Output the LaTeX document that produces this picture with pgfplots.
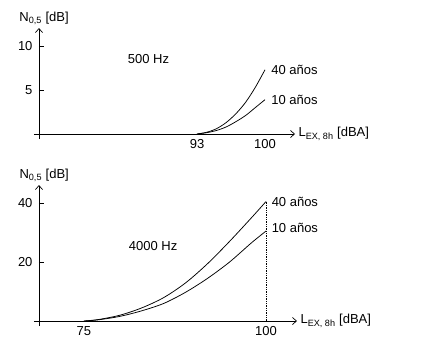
\documentclass[border=0pt]{standalone}
\usepackage{fontspec}
\setmainfont{Liberation Sans}
\usepackage{pgfplots}
\pgfplotsset{compat=1.18}
\usetikzlibrary{arrows.meta}
\newcommand{\fs}{\fontsize{13}{15}\selectfont}
\pgfplotsset{
  mystyle/.style={
    scale only axis,
    axis x line=bottom, axis y line=left,
    axis line style={line width=0.8pt, shorten <=-5pt, -{Straight Barb[length=4pt,width=7pt,line width=0.7pt]}},
    tick align=inside, major tick length=5pt,
    ytick style={line width=0.8pt, black},
    xtick style={draw=none},
    /pgf/number format/assume math mode=true,
    tick label style={font=\fs},
    xticklabel style={yshift=-2pt},
    yticklabel style={xshift=-3pt},
    clip=false,
  },
  crv/.style={line width=0.75pt, black, no marks, smooth},
}
\begin{document}
\begin{tikzpicture}
\path (0pt,0pt) rectangle (426pt,357pt);
% top axis: 500 Hz
\begin{axis}[mystyle,
  at={(39pt,223pt)}, anchor=south west,
  width=256pt, height=106pt,
  xmin=76.73, xmax=103.09, ymin=0, ymax=12.05,
  xtick={93,100}, ytick={5,10}]
\addplot[crv] coordinates {(93,0) (94,0.2) (95,0.6) (96,1.3) (97,2.3) (98,3.6) (99,5.3) (100,7.3)};
\addplot[crv] coordinates {(93,0) (94,0.15) (95,0.4) (96,0.8) (97,1.4) (98,2.1) (99,3.0) (100,3.9)};
\node[anchor=west, font=\fs] at (axis cs:100.3,7.3) {40 años};
\node[anchor=west, font=\fs] at (axis cs:100.3,3.9) {10 años};
\node[font=\fs] at (axis cs:88.0,8.5) {500 Hz};
\node[anchor=south, font=\fs] at (rel axis cs:0.02,1) {N\textsubscript{0,5} [dB]};
\node[anchor=west, font=\fs] at (rel axis cs:1,0) {L\textsubscript{EX, 8h} [dBA]};
\end{axis}
% bottom axis: 4000 Hz
\begin{axis}[mystyle,
  at={(39pt,36pt)}, anchor=south west,
  width=258pt, height=136pt,
  xmin=68.84, xmax=104.25, ymin=0, ymax=46.1,
  xtick={75,100}, ytick={20,40}]
\addplot[crv] coordinates {(75,0) (77,0.5) (80,2) (83,4.5) (86,8) (89,13) (92,19.5) (95,27) (98,35) (100,40.5)};
\addplot[crv] coordinates {(75,0) (77,0.4) (80,1.6) (83,3.5) (86,6) (89,9.8) (92,14.5) (95,20) (98,26.5) (100,30.5)};
\addplot[black, line width=0.75pt, densely dotted, no marks] coordinates {(100,0) (100,40.5)};
\node[anchor=west, font=\fs] at (axis cs:100.3,40.5) {40 años};
\node[anchor=west, font=\fs] at (axis cs:100.3,31.5) {10 años};
\node[font=\fs] at (axis cs:84.5,25.5) {4000 Hz};
\node[anchor=south, font=\fs] at (rel axis cs:0.02,1) {N\textsubscript{0,5} [dB]};
\node[anchor=west, font=\fs] at (rel axis cs:1,0) {L\textsubscript{EX, 8h} [dBA]};
\end{axis}
\end{tikzpicture}
\end{document}
